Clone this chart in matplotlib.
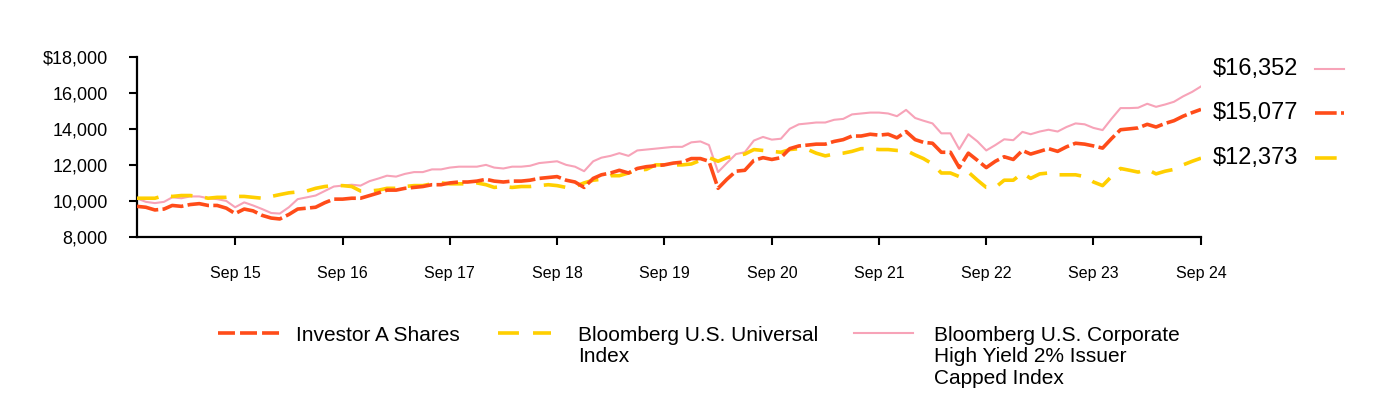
import matplotlib
matplotlib.use('Agg')
import matplotlib.pyplot as plt
import matplotlib.dates as mdates
from matplotlib.lines import Line2D
from matplotlib.ticker import FuncFormatter
import pandas as pd

plt.rcParams['font.family'] = ['Liberation Sans', 'DejaVu Sans']

# month-end values, Oct 2014 .. Sep 2024
dates = pd.date_range('2014-10-31', periods=120, freq='ME')

investor_a = [
    9700, 9650, 9500, 9550, 9750, 9700, 9800, 9850, 9750, 9750, 9600, 9300,
    9550, 9450, 9200, 9050, 9000, 9250, 9550, 9600, 9650, 9900, 10100, 10100,
    10150, 10150, 10300, 10450, 10600, 10600, 10700, 10750, 10800, 10900, 10900, 11000,
    11050, 11050, 11100, 11200, 11100, 11050, 11100, 11100, 11150, 11250, 11300, 11350,
    11150, 11050, 10750, 11250, 11450, 11550, 11700, 11550, 11800, 11900, 11950, 12000,
    12100, 12150, 12350, 12350, 12200, 10700, 11200, 11650, 11700, 12250, 12400, 12300,
    12400, 12900, 13050, 13100, 13150, 13150, 13300, 13400, 13600, 13600, 13700, 13650,
    13700, 13500, 13850, 13400, 13250, 13200, 12700, 12700, 11850, 12650, 12250, 11850,
    12200, 12450, 12300, 12800, 12600, 12750, 12900, 12750, 13000, 13200, 13150, 13050,
    12930, 13450, 13950, 14000, 14050, 14250, 14100, 14300, 14450, 14700, 14900, 15077,
]

universal = [
    10150, 10150, 10150, 10300, 10250, 10300, 10300, 10250, 10150, 10200, 10200, 10250,
    10250, 10200, 10150, 10250, 10350, 10450, 10500, 10550, 10700, 10800, 10850, 10850,
    10800, 10550, 10550, 10600, 10700, 10700, 10800, 10850, 10850, 10950, 11000, 10950,
    10950, 10950, 11000, 10900, 10750, 10800, 10750, 10800, 10800, 10850, 10900, 10850,
    10750, 10800, 11000, 11150, 11200, 11400, 11400, 11550, 11700, 11750, 12000, 12000,
    12000, 12000, 12050, 12250, 12400, 12200, 12400, 12500, 12600, 12850, 12800, 12750,
    12700, 12850, 12900, 12850, 12650, 12500, 12600, 12650, 12750, 12900, 12900, 12850,
    12850, 12800, 12800, 12550, 12350, 12050, 11550, 11550, 11350, 11600, 11150, 10750,
    10750, 11150, 11150, 11550, 11250, 11500, 11550, 11450, 11450, 11450, 11350, 11050,
    10850, 11350, 11800, 11700, 11600, 11750, 11500, 11650, 11750, 12000, 12200, 12373,
]

high_yield = [
    10140, 9950, 9880, 9950, 10200, 10150, 10250, 10250, 10150, 10100, 10000, 9650,
    9920, 9750, 9550, 9330, 9300, 9650, 10100, 10200, 10300, 10550, 10800, 10850,
    10900, 10850, 11100, 11250, 11400, 11350, 11500, 11600, 11600, 11750, 11750, 11850,
    11900, 11900, 11900, 12000, 11850, 11800, 11900, 11900, 11950, 12100, 12150, 12200,
    12000, 11900, 11650, 12200, 12400, 12500, 12650, 12500, 12800, 12850, 12900, 12950,
    13000, 13000, 13250, 13300, 13100, 11600, 12100, 12600, 12700, 13350, 13550, 13400,
    13450, 14000, 14250, 14300, 14350, 14350, 14500, 14550, 14800, 14850, 14900, 14900,
    14850, 14700, 15050, 14600, 14450, 14300, 13750, 13750, 12870, 13700, 13300, 12800,
    13100, 13420, 13370, 13830, 13700, 13850, 13950, 13850, 14100, 14300, 14250, 14050,
    13930, 14550, 15150, 15150, 15170, 15390, 15220, 15350, 15500, 15800, 16050, 16352,
]

names = ['Investor A Shares', 'Bloomberg U.S. Universal\nIndex',
         'Bloomberg U.S. Corporate\nHigh Yield 2% Issuer\nCapped Index']

c_fund, c_univ, c_hy = '#ff4c19', '#ffcf00', '#f7a3b8'

W, H = 1384, 400
fig = plt.figure(figsize=(W / 100, H / 100), dpi=100)
ax = fig.add_axes([137 / W, 1 - 237 / H, (1201 - 137) / W, (237 - 56.7) / H])

ax.plot(dates, high_yield, color=c_hy, lw=1.5, zorder=2)
ax.plot(dates, universal, color=c_univ, lw=2.6, dashes=(6, 3.5), zorder=3)
ax.plot(dates, investor_a, color=c_fund, lw=2.6, dashes=(6, 1.2), zorder=4)

ax.set_xlim(dates[0], dates[-1])
ax.set_ylim(8000, 18000)
ax.set_yticks(range(8000, 18001, 2000))
ax.yaxis.set_major_formatter(FuncFormatter(
    lambda v, p: f'${v:,.0f}' if v == 18000 else f'{v:,.0f}'))
sep_ticks = [d for d in dates if d.month == 9]
ax.set_xticks(sep_ticks)
ax.xaxis.set_major_formatter(mdates.DateFormatter('Sep %y'))

for s in ['top', 'right']:
    ax.spines[s].set_visible(False)
for s in ['left', 'bottom']:
    ax.spines[s].set_linewidth(1.6)
ax.tick_params(axis='y', length=6, width=1.5, pad=15, labelsize=13)
ax.tick_params(axis='x', length=6, width=1.5, pad=15, labelsize=11.5)

# end value labels with small line keys
ends = [(high_yield[-1], c_hy, None, 1.5, 69),
        (investor_a[-1], c_fund, (6, 1.2), 2.6, 113),
        (universal[-1], c_univ, (6, 3.5), 2.6, 158)]
for val, col, dsh, lw, ypx in ends:
    fig.text(1213 / W, 1 - ypx / H, f'${val:,.0f}', fontsize=17,
             va='center', ha='left')
    ln = Line2D([1315 / W, 1344 / W], [1 - ypx / H] * 2, color=col, lw=lw,
                transform=fig.transFigure)
    if dsh:
        ln.set_dashes(dsh)
    fig.add_artist(ln)

# legend at bottom
leg = [(218, 280, 296, c_fund, (4.7, 1.4), 2.6),
       (498, 551, 578, c_univ, (5.8, 3.9), 2.6),
       (854, 913, 934, c_hy, None, 1.5)]
for (x0, x1, xt, col, dsh, lw), name in zip(leg, names):
    y = 1 - 333 / H
    ln = Line2D([x0 / W, x1 / W], [y, y], color=col, lw=lw,
                transform=fig.transFigure)
    if dsh:
        ln.set_dashes(dsh)
    fig.add_artist(ln)
    fig.text(xt / W, 1 - 326 / H, name, fontsize=15, va='top', ha='left',
             linespacing=1.15)

fig.savefig('out.png', dpi=100, facecolor='white')
